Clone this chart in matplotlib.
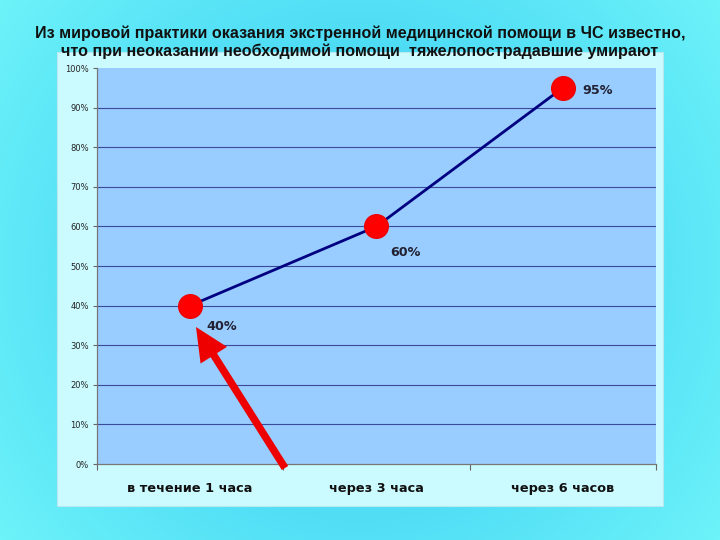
import numpy as np
import matplotlib
matplotlib.use("Agg")
import matplotlib.pyplot as plt
from matplotlib.patches import Rectangle
from matplotlib.ticker import FixedLocator, PercentFormatter

categories = ["в течение 1 часа", "через 3 часа", "через 6 часов"]
values = [40, 60, 95]
value_labels = ["40%", "60%", "95%"]
yticks = [0, 10, 20, 30, 40, 50, 60, 70, 80, 90, 100]
title = ("Из мировой практики оказания экстренной медицинской помощи в ЧС известно,\n"
         "что при неоказании необходимой помощи  тяжелопострадавшие умирают")

fig = plt.figure(figsize=(7.2, 5.4), dpi=100)

# background gradient
bg = fig.add_axes([0, 0, 1, 1], zorder=-10)
yy, xx = np.mgrid[0:1:270j, 0:1:360j]
r = np.sqrt((xx - 0.5) ** 2 + ((yy - 0.5) * 0.75) ** 2)
r = np.clip(r / 0.62, 0, 1)
c0 = np.array([0x30, 0xc6, 0xf2]) / 255
c1 = np.array([0x6c, 0xf2, 0xf9]) / 255
img = c0[None, None, :] * (1 - r[..., None]) + c1[None, None, :] * r[..., None]
bg.imshow(img, aspect="auto", extent=[0, 1, 0, 1], origin="lower")
bg.set_axis_off()

# chart panel
fig.patches.append(Rectangle((0.079, 0.063), 0.8417, 0.8407, transform=fig.transFigure,
                             facecolor="#ccfbff", edgecolor="#b8e8f0", lw=0.8, zorder=-5))

fig.text(0.5, 0.953, title, ha="center", va="top", fontsize=11.6, fontweight="bold",
         family="Liberation Sans", color="#111111", linespacing=1.2)

ax = fig.add_axes([0.1347, 0.1407, 0.7764, 0.7333])
ax.set_facecolor("#99ccff")
x = np.arange(len(categories))
ax.set_xlim(-0.5, len(categories) - 0.5)
ax.set_ylim(0, 100)

for t in yticks[1:-1]:
    ax.axhline(t, color="#3b4a9a", lw=0.8, zorder=1)

ax.plot(x, values, color="#000080", lw=2, zorder=3)
ax.plot(x, values, "o", color="#ff0000", markersize=17, markeredgecolor="#ee0000", zorder=4)

offsets = [(12, -15), (10, -19), (14, -2)]
for xi, v, lab, off in zip(x, values, value_labels, offsets):
    ax.annotate(lab, (xi, v), xytext=off, textcoords="offset points", ha="left", va="center",
                fontsize=9.2, fontweight="bold", color="#222233", family="DejaVu Sans")

ax.yaxis.set_major_locator(FixedLocator(yticks))
ax.yaxis.set_major_formatter(PercentFormatter(decimals=0))
ax.tick_params(axis="y", labelsize=6, length=3, color="#666666", labelcolor="#222222", pad=3)

ax.set_xticks(np.arange(-0.5, len(categories)))
ax.set_xticklabels([])
ax.set_xticks(x, minor=True)
ax.set_xticklabels(categories, minor=True)
ax.tick_params(axis="x", which="major", length=4, color="#666666", direction="out")
ax.tick_params(axis="x", which="minor", length=0, pad=13, labelsize=9.3, labelcolor="#111111")
for lab in ax.get_xticklabels(minor=True):
    lab.set_fontweight("bold")

for s in ["top", "right"]:
    ax.spines[s].set_visible(False)
for s in ["left", "bottom"]:
    ax.spines[s].set_color("#777777")
    ax.spines[s].set_linewidth(0.9)

# red arrow
ax.annotate("", xy=(196 / 720, 1 - 327 / 540), xycoords="figure fraction",
            xytext=(285 / 720, 1 - 468 / 540), textcoords="figure fraction",
            arrowprops=dict(arrowstyle="simple,head_length=0.8,head_width=0.75,tail_width=0.18",
                            mutation_scale=30, color="#ee0000", lw=0, shrinkA=0, shrinkB=0),
            annotation_clip=False, zorder=5)

fig.savefig("out.png", dpi=100)
